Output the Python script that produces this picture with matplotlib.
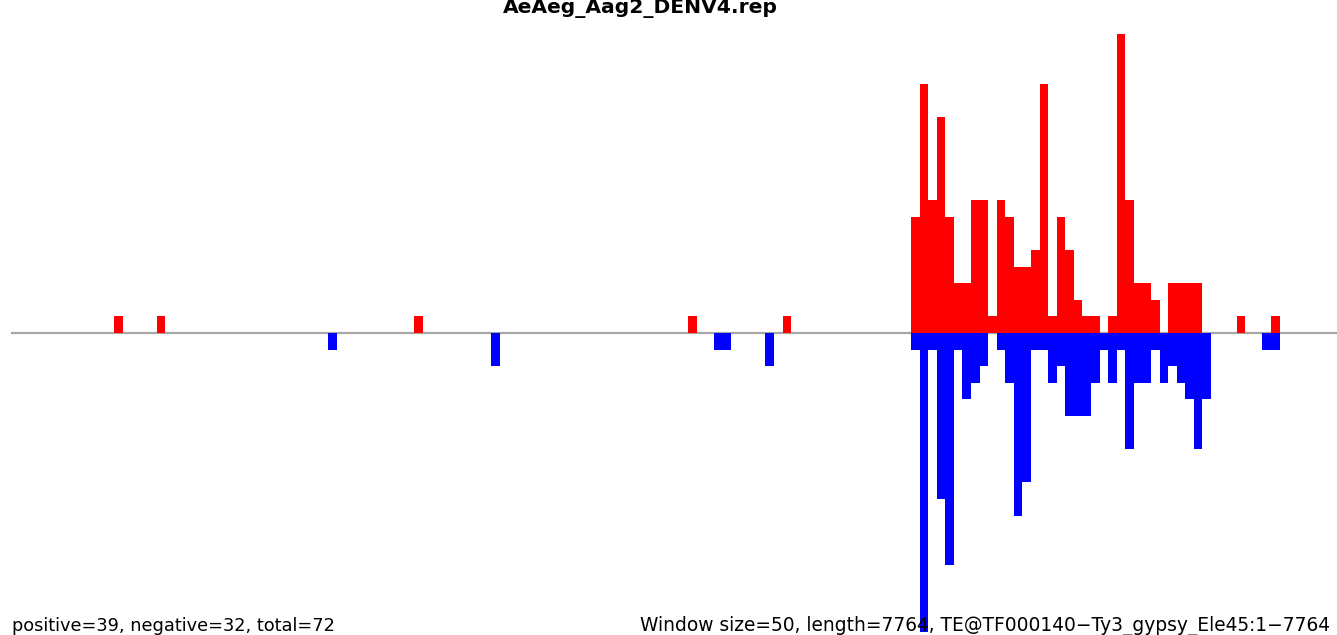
import matplotlib
matplotlib.use("Agg")
import matplotlib.pyplot as plt

title = "AeAeg_Aag2_DENV4.rep"
window = 50
length = 7764
left_text = "positive=39, negative=32, total=72"
right_text = "Window size=50, length=7764, TE@TF000140\u2212Ty3_gypsy_Ele45:1\u22127764"

pos_bins = [12, 17, 47, 79, 90,
            105, 106, 107, 108, 109, 110, 111, 112, 113, 114, 115, 116, 117, 118, 119,
            120, 121, 122, 123, 124, 125, 126, 128, 129, 130, 131, 132, 133, 135, 136,
            137, 138, 143, 147]
pos_counts = [1, 1, 1, 1, 1,
              7, 15, 8, 13, 7, 3, 3, 8, 8, 1, 8, 7, 4, 4, 5,
              15, 1, 7, 5, 2, 1, 1, 1, 18, 8, 3, 3, 2, 3, 3,
              3, 3, 1, 1]

neg_bins = [37, 56, 82, 83, 88,
            105, 106, 107, 108, 109, 110, 111, 112, 113, 115, 116, 117, 118, 119, 120,
            121, 122, 123, 124, 125, 126, 127, 128, 129, 130, 131, 132, 133, 134, 135,
            136, 137, 138, 139, 146, 147]
neg_counts = [1, 2, 1, 1, 2,
              1, 18, 1, 10, 14, 1, 4, 3, 2, 1, 3, 11, 9, 1, 1,
              3, 2, 5, 5, 5, 3, 1, 3, 1, 7, 3, 3, 1, 3, 2,
              3, 4, 7, 4, 1, 1]

W, H = 1337, 635
fig = plt.figure(figsize=(W / 100, H / 100), dpi=100)
ax = fig.add_axes([0, 0, 1, 1])
ax.set_axis_off()

bin_px = 8.57
x0_px = 11.2
unit_px = 16.6
base_px = 333

ax.set_xlim(-x0_px / bin_px * window, (W - x0_px) / bin_px * window)
ax.set_ylim(-(H - base_px) / unit_px, base_px / unit_px)

ax.plot([0, length], [0, 0], color="#a6a6a6", lw=1.6, zorder=1, solid_capstyle="butt")
ax.bar([b * window for b in pos_bins], pos_counts, width=window, align="edge",
       color="#ff0000", linewidth=0, zorder=2)
ax.bar([b * window for b in neg_bins], [-c for c in neg_counts], width=window, align="edge",
       color="#0000ff", linewidth=0, zorder=2)

fig.text(640 / W, 1 - 13 / H, title, ha="center", va="baseline", fontsize=14.6,
         fontweight="bold", family="DejaVu Sans")
fig.text(12 / W, 4 / H, left_text, ha="left", va="baseline", fontsize=12.8,
         family="DejaVu Sans")
fig.text(640 / W, 4 / H, right_text, ha="left", va="baseline", fontsize=13.4,
         family="DejaVu Sans")

fig.savefig("out.png", dpi=100)
